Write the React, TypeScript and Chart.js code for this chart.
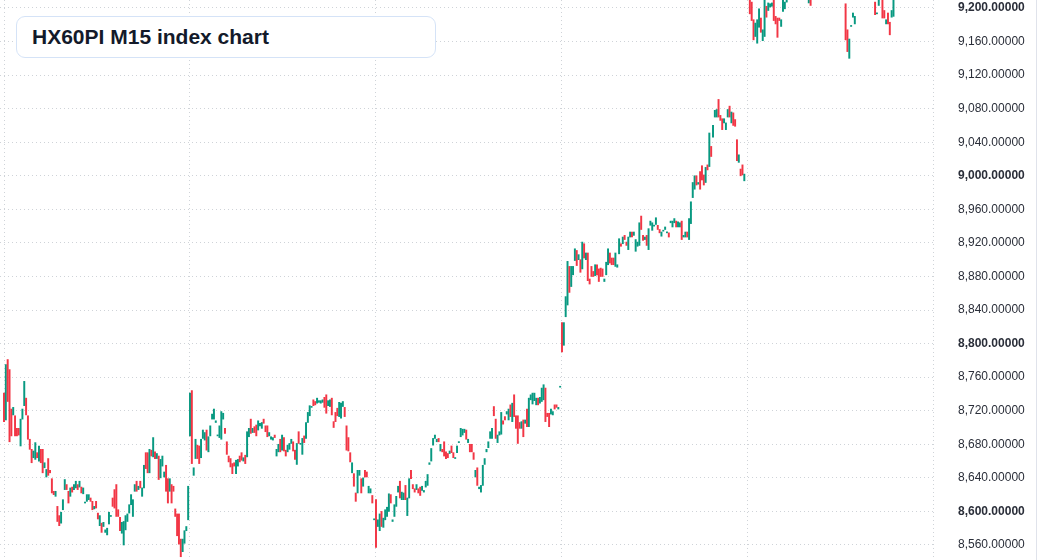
import { useEffect, useRef } from "react";
import { Chart, registerables } from "chart.js";

Chart.register(...registerables);

// Candles per trading day (M15). Each candle: bar from open to close value.
const day1Open = [8741,8709,8781,8769,8722,8715,8714,8699,8699,8678, 8710,8726,8735,8714,8686,8674,8664,8662,8670,8660, 8674,8674,8652,8641,8663,8649,8639,8624,8618,8606, 8595,8586,8602,8626,8632,8624,8618,8629,8626,8628, 8632,8629,8629,8621,8610,8612,8614,8616,8612,8603, 8612,8598,8583,8586,8582,8575,8572,8585,8594,8616, 8626,8632,8602,8593,8574,8560,8578,8588,8598,8608, 8594,8624,8636,8626,8636,8618,8628,8670,8670,8646, 8673,8665,8671,8663,8666,8640,8654,8641,8655,8639, 8624,8632,8630,8603,8597,8597,8567,8552,8562,8577, 8590];
const day1Close = [8707,8775,8731,8683,8690,8724,8690,8690,8691,8710, 8722,8755,8715,8686,8674,8658,8672,8682,8664,8678, 8658,8646,8658,8650,8643,8646,8622,8620,8624,8588, 8583,8599,8614,8638,8626,8610,8628,8623,8632,8636, 8626,8636,8622,8628,8611,8620,8620,8612,8602,8606, 8604,8591,8595,8575,8587,8578,8580,8599,8595,8606, 8604,8594,8594,8577,8587,8588,8595,8597,8608,8620, 8614,8632,8624,8630,8628,8628,8655,8651,8646,8674, 8666,8688,8663,8669,8638,8662,8666,8647,8624,8610, 8639,8610,8624,8594,8571,8561,8546,8567,8577,8582, 8630];

const day2Open = [8690,8744,8643,8663,8679,8678,8664,8687,8685,8697, 8671,8690,8710,8710,8706,8690,8688,8686,8710,8699, 8683,8666,8663,8657,8658,8645,8654,8666,8670,8660, 8667,8665,8689,8710,8694,8701,8703,8697,8702,8699, 8710,8702,8702,8690,8686,8685,8691,8666,8671,8686, 8673,8688,8673,8671,8674,8681,8683,8673,8656,8695, 8680,8668,8690,8687,8706,8714,8724,8733,8731,8729, 8730,8729,8730,8736,8739,8726,8725,8735,8707,8718, 8723,8713,8711,8725,8724,8702,8688,8670,8646,8645, 8622,8622,8643,8639,8630,8649,8647,8622,8622,8619, 8590];
const day2Close = [8741,8657,8652,8686,8663,8657,8686,8697,8694,8673, 8689,8702,8716,8722,8708,8691,8702,8719,8717,8693, 8668,8659,8653,8645,8654,8661,8662,8659,8661,8664, 8657,8695,8699,8693,8699,8694,8690,8708,8705,8706, 8705,8695,8689,8694,8689,8688,8688,8674,8680,8671, 8691,8672,8666,8679,8681,8686,8672,8662,8681,8681, 8681,8687,8682,8706,8718,8726,8725,8726,8727,8735, 8732,8732,8733,8724,8717,8732,8733,8715,8700,8707, 8714,8730,8729,8731,8713,8673,8672,8659,8658,8630, 8612,8649,8649,8622,8640,8641,8641,8630,8627,8610, 8591];

const day3Open = [8614,8582,8577,8600,8581,8590,8594,8600,8620,8588, 8594,8606,8623,8636,8614,8614,8631,8595,8616,8649, 8632,8627,8626,8627,8629,8625,8623,8629,8631,8656, 8660,8679,8687,8683,8687,8672,8674,8683,8671,8669, 8669,8678,8670,8663,8670,8682,8689,8691,8694,8697, 8682,8680,8680,8670,8641,8652,8627,8623,8631,8656, 8671,8676,8687,8687,8725,8710,8682,8691,8692,8708, 8713,8716,8709,8727,8707,8739,8714,8714,8706,8699, 8709,8705,8722,8701,8733,8728,8732,8727,8735,8729, 8731,8733,8747,8717,8717,8716,8715,8727,8727,8722, 8748];
const day3Close = [8557,8590,8597,8582,8592,8602,8605,8621,8610,8590, 8608,8618,8630,8616,8623,8622,8614,8616,8639,8639, 8627,8623,8632,8622,8619,8630,8625,8636,8644,8658, 8675,8687,8691,8686,8683,8680,8671,8666,8663,8664, 8672,8670,8664,8664,8678,8683,8699,8698,8698,8686, 8686,8671,8671,8662,8649,8631,8629,8631,8655,8663, 8674,8683,8695,8699,8714,8687,8691,8695,8718,8704, 8709,8719,8722,8713,8729,8713,8699,8681,8699,8707, 8689,8709,8701,8735,8739,8741,8741,8735,8727,8736, 8747,8751,8707,8713,8701,8722,8719,8722,8724,8724, 8749];

const day4Open = [8825,8798,8832,8846,8892,8868,8882,8899,8911,8900, 8900,8889,8919,8900,8908,8877,8892,8886,8881,8894, 8889,8890,8889,8874,8882,8894,8908,8902,8902,8892, 8891,8907,8919,8919,8929,8921,8912,8927,8933,8929, 8910,8916,8917,8952,8929,8924,8929,8912,8941,8935, 8940,8942,8941,8936,8928,8934,8936,8932,8932,8944, 8939,8944,8946,8939,8939,8946,8927,8927,8933,8924, 8943,8974,8984,9000,8990,9005,9012,9001,8992,9013, 9011,9035,9046,9070,9070,9091,9072,9068,9063,9055, 9070,9083,9063,9075,9067,9043,9016,9008,9013,8994];
const day4Close = [8790,8825,8856,8898,8861,8892,8892,8913,8893,8906, 8885,8921,8902,8908,8875,8871,8880,8880,8894,8882, 8874,8880,8880,8877,8897,8913,8896,8894,8894,8908, 8894,8925,8916,8927,8924,8917,8927,8933,8927,8933, 8924,8921,8944,8936,8923,8927,8917,8937,8946,8944, 8941,8950,8936,8932,8933,8935,8939,8933,8927,8946, 8946,8949,8939,8945,8944,8924,8929,8933,8927,8949, 8969,8992,9000,8989,8992,8984,8995,8989,9010,9007, 9051,9023,9060,9078,9079,9070,9066,9055,9068,9063, 9079,9070,9076,9060,9059,9018,9025,9000,9001,9002];

const day5Open = [9214,9215,9207,9186,9166,9158,9177,9188,9161,9166, 9202,9197,9201,9202,9216,9190,9188,9188,9178,9196, 9199,9207, 9213,9222,9231,9226,9238,9232,9241,9235,9228,9221,9216, 9206,9215, 9212,9220,9229,9224,9236,9244,9239,9248,9242,9233,9238,9230,9222,9227,9219,9225,9216,9221, 9205,9174,9140,9178,9189,9181, 9212,9220,9228,9223,9232,9226,9219,9225,9217,9222, 9207,9193,9203,9213,9216,9197,9181,9194,9183,9189,9190];
const day5Close = [9226,9193,9185,9162,9182,9186,9199,9171,9174,9216, 9189,9206,9205,9206,9185,9181,9165,9185,9186,9214, 9207,9213, 9222,9231,9226,9238,9232,9241,9235,9228,9221,9216,9213, 9212,9203, 9220,9229,9224,9236,9244,9239,9248,9242,9233,9238,9230,9222,9227,9219,9225,9216,9221,9213, 9162,9148,9163,9179,9194,9190, 9220,9228,9223,9232,9226,9219,9225,9217,9222,9213, 9192,9194,9212,9221,9188,9188,9186,9181,9168,9197,9213];

const yTickValues = [8560, 8600, 8640, 8680, 8720, 8760, 8800, 8840, 8880, 8920, 8960, 9000, 9040, 9080, 9120, 9160, 9200];
const dayBoundaries = [0, 1, 2, 3, 4, 5];
const SLOTS_PER_DAY = 101;

const GREEN = "#089981";
const RED = "#f23645";
const GRID = "#cfd3d8";

export default function App() {
  const ref = useRef<HTMLCanvasElement>(null);

  useEffect(() => {
    const days = [
      [day1Open, day1Close],
      [day2Open, day2Close],
      [day3Open, day3Close],
      [day4Open, day4Close],
      [day5Open, day5Close],
    ];
    const points: { x: number; y: [number, number] }[] = [];
    days.forEach(([o, c], d) => {
      o.forEach((v, i) => points.push({ x: d + i / SLOTS_PER_DAY, y: [v, c[i]] }));
    });

    const chart = new Chart(ref.current!, {
      type: "bar",
      data: {
        datasets: [
          {
            data: points as any,
            backgroundColor: (ctx: any) => {
              const r = ctx.raw;
              if (!r) return GREEN;
              return r.y[1] >= r.y[0] ? GREEN : RED;
            },
            borderWidth: 0,
            barThickness: 1.3,
            minBarLength: 1,
          },
        ],
      },
      options: {
        animation: false,
        responsive: false,
        maintainAspectRatio: false,
        layout: { padding: 0 },
        plugins: { legend: { display: false }, tooltip: { enabled: false }, title: { display: false } },
        scales: {
          x: {
            type: "linear",
            offset: false,
            min: -4 / 186,
            max: 931 / 186,
            afterBuildTicks: (s: any) => {
              s.ticks = dayBoundaries.map((v) => ({ value: v }));
            },
            afterFit: (s: any) => {
              s.height = 0;
              s.paddingLeft = 0;
              s.paddingRight = 0;
            },
            ticks: { display: false },
            grid: { color: GRID, lineWidth: 1, drawTicks: false, offset: false },
            border: { display: false, dash: [1, 3] },
          },
          y: {
            position: "right",
            min: 8542.1,
            max: 9209.5,
            afterBuildTicks: (s: any) => {
              s.ticks = yTickValues.map((v) => ({ value: v }));
            },
            afterFit: (s: any) => {
              s.width = 101;
              s.paddingTop = 0;
              s.paddingBottom = 0;
            },
            ticks: {
              padding: 23,
              color: "#2a2e39",
              font: (ctx: any) => ({
                family: '"Liberation Sans", Arial, sans-serif',
                size: 12,
                weight: ctx.tick && ctx.tick.value % 200 === 0 ? "bold" : "normal",
              }),
              callback: (v: any) =>
                Number(v).toLocaleString("en-US", { minimumFractionDigits: 5, maximumFractionDigits: 5 }),
            },
            grid: { color: GRID, lineWidth: 1, drawTicks: false },
            border: { display: false, dash: [1, 3] },
          },
        },
      } as any,
    });
    return () => chart.destroy();
  }, []);

  return (
    <div
      style={{
        position: "fixed",
        left: 0,
        top: 0,
        width: 1036,
        height: 560,
        borderRight: "1px solid #e0e3eb",
        background: "#fff",
        overflow: "hidden",
      }}
    >
      <canvas ref={ref} width={1036} height={560} style={{ display: "block", width: 1036, height: 560 }} />
      <div
        style={{
          position: "absolute",
          left: 16,
          top: 16,
          width: 420,
          height: 42,
          boxSizing: "border-box",
          border: "1px solid #d5e3f7",
          borderRadius: 9,
          background: "#fff",
          paddingLeft: 15,
          display: "flex",
          alignItems: "center",
          fontFamily: '"Liberation Sans", Arial, sans-serif',
          fontWeight: 700,
          fontSize: 21,
          color: "#131a2a",
        }}
      >
        HX60PI M15 index chart
      </div>
    </div>
  );
}
